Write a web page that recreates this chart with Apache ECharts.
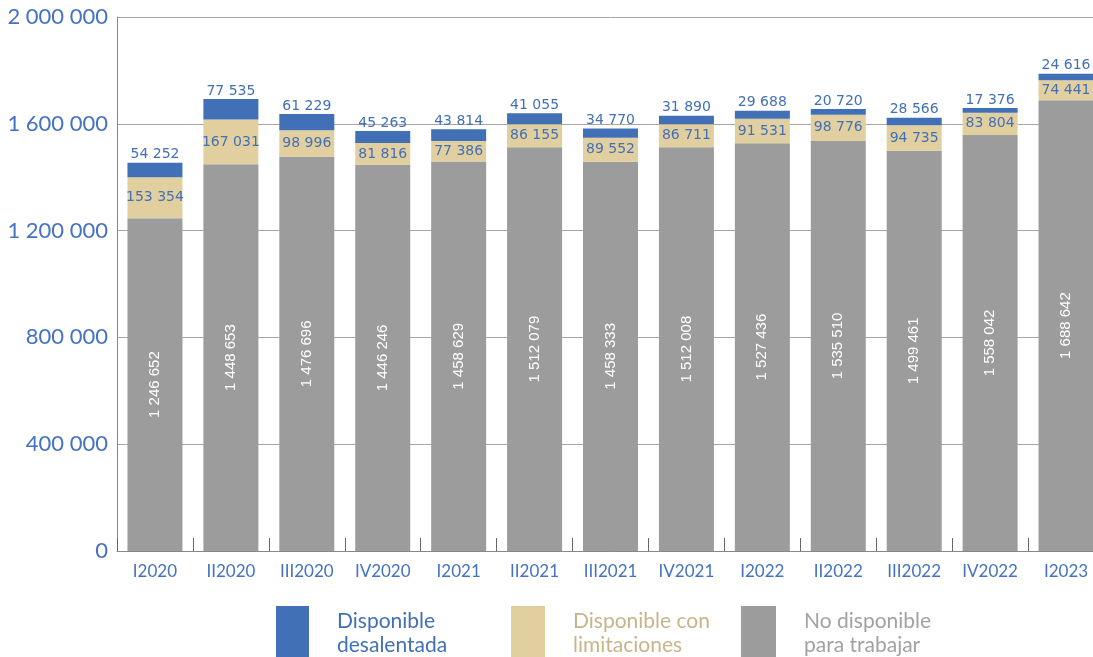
<!DOCTYPE html>
<html><head><meta charset="utf-8">
<script src="https://cdn.jsdelivr.net/npm/echarts@6/dist/echarts.min.js"></script>
<style>html,body{margin:0;padding:0;background:#fff;overflow:hidden}#c{width:1104px;height:657px}</style>
</head><body><div id="c"></div>
<script>
const categories = ['I2020','II2020','III2020','IV2020','I2021','II2021','III2021','IV2021','I2022','II2022','III2022','IV2022','I2023'];
const desalentada = [54252, 77535, 61229, 45263, 43814, 41055, 34770, 31890, 29688, 20720, 28566, 17376, 24616];
const limitaciones = [153354, 167031, 98996, 81816, 77386, 86155, 89552, 86711, 91531, 98776, 94735, 83804, 74441];
const noDisponible = [1246652, 1448653, 1476696, 1446246, 1458629, 1512079, 1458333, 1512008, 1527436, 1535510, 1499461, 1558042, 1688642];
const seriesNames = ['Disponible\ndesalentada', 'Disponible con\nlimitaciones', 'No disponible\npara trabajar'];

const BLUE = '#4270B6', TAN = '#E2CF9F', GRAY = '#9B9C9B';
const fmt = v => String(v).replace(/\B(?=(\d{3})+(?!\d))/g, ' ');
const lblFont = 'DejaVu Sans';

function legendFor(name, textColor, left, w) {
  return {
    left: left, top: 606, orient: 'horizontal', padding: 0,
    itemWidth: w, itemHeight: 54, itemGap: 0,
    icon: 'rect',
    data: [{name: name, textStyle: {color: textColor}}],
    textStyle: {fontFamily: 'Lato', fontSize: 21, lineHeight: 24, padding: [2,0,0,23]},
    selectedMode: false
  };
}

const chart = echarts.init(document.getElementById('c'));
chart.setOption({
  animation: false,
  grid: {left: 117, right: 0, top: 17, bottom: 106},
  legend: [
    legendFor(seriesNames[0], '#4270B6', 276, 33),
    legendFor(seriesNames[1], '#C8B48A', 511, 34),
    legendFor(seriesNames[2], '#A2A2A2', 741, 35)
  ],
  xAxis: {
    type: 'category', data: categories,
    axisLine: {lineStyle: {color: '#888', width: 1}},
    axisTick: {show: true, inside: true, length: 13, lineStyle: {color: '#666'}},
    axisLabel: {color: '#4472C4', fontFamily: 'Lato', fontSize: 17, margin: 12}
  },
  yAxis: {
    type: 'value', min: 0, max: 2000000, interval: 400000,
    axisLine: {show: true, lineStyle: {color: '#888'}},
    axisTick: {show: false},
    splitLine: {lineStyle: {color: '#A6A6A6', width: 1}},
    axisLabel: {color: '#4472C4', fontFamily: 'Lato', fontSize: 22, margin: 9, formatter: fmt}
  },
  series: [
    {
      name: seriesNames[2], type: 'bar', stack: 't', data: noDisponible, barWidth: 55,
      itemStyle: {color: GRAY},
      label: {show: true, position: 'inside', rotate: 90, color: '#fff', fontFamily: 'Liberation Sans', fontSize: 15, formatter: p => fmt(p.value)}
    },
    {
      name: seriesNames[1], type: 'bar', stack: 't', data: limitaciones, barWidth: 55,
      itemStyle: {color: TAN},
      label: {show: true, position: 'inside', color: '#4270B6', fontFamily: lblFont, fontSize: 14, formatter: p => fmt(p.value)}
    },
    {
      name: seriesNames[0], type: 'bar', stack: 't', data: desalentada, barWidth: 55,
      itemStyle: {color: BLUE},
      label: {show: true, position: 'top', distance: 1, color: '#4270B6', fontFamily: lblFont, fontSize: 14, formatter: p => fmt(p.value)}
    }
  ]
});
</script>
</body></html>
